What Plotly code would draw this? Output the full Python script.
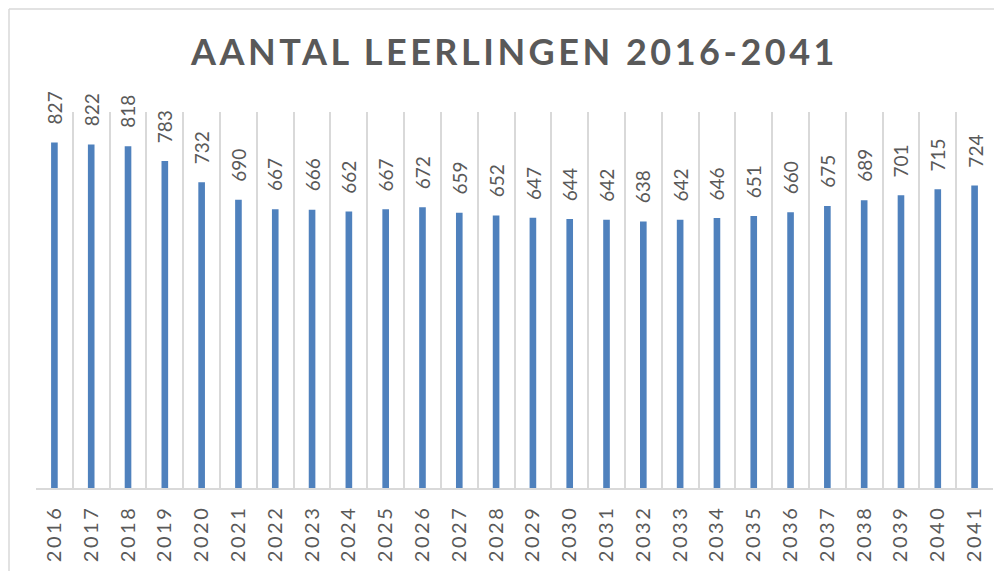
import plotly.graph_objects as go

years = [str(y) for y in range(2016, 2042)]
leerlingen = [827, 822, 818, 783, 732, 690, 667, 666, 662, 667, 672, 659, 652,
              647, 644, 642, 638, 642, 646, 651, 660, 675, 689, 701, 715, 724]
title_text = "AANTAL LEERLINGEN 2016-2041"

OFF = 8  # page body margin in the browser
W, H = 1002 - OFF, 571 - OFF
ml, mr, mt, mb = 36 - OFF, 17 - OFF, 112 - OFF, 83
pw = W - ml - mr
ph = H - mt - mb

fig = go.Figure()
fig.add_trace(go.Bar(
    x=years, y=leerlingen,
    width=0.18,
    marker=dict(color="#4f81bd", line=dict(width=0)),
    hoverinfo="x+y",
))

annotations = []
for i, v in enumerate(leerlingen):
    annotations.append(dict(
        x=i, y=v, xref="x", yref="y", text=str(v), showarrow=False,
        textangle=-90, xanchor="center", yanchor="bottom", yshift=16,
        font=dict(family="Lato", size=19, color="#595959"),
    ))

def px_x(p):
    return (p - OFF - ml) / pw

def px_y(p):
    return (H - mb - (p - OFF)) / ph

shapes = [
    dict(type="line", xref="paper", yref="paper",
         x0=px_x(9), x1=px_x(1010), y0=px_y(9), y1=px_y(9),
         line=dict(color="#d9d9d9", width=1.5)),
    dict(type="line", xref="paper", yref="paper",
         x0=px_x(9), x1=px_x(9), y0=px_y(9), y1=px_y(580),
         line=dict(color="#d9d9d9", width=1.5)),
]

tick_text = ['<span style="letter-spacing:2.5px">%s</span>' % y for y in years]

fig.update_layout(
    width=W, height=H,
    margin=dict(l=ml, r=mr, t=mt, b=mb, autoexpand=False),
    paper_bgcolor="white", plot_bgcolor="white",
    showlegend=False,
    annotations=annotations,
    shapes=shapes,
    title=dict(text='<span style="letter-spacing:3.5px">%s</span>' % title_text,
               x=0.5, xref="paper", xanchor="center",
               y=1 - (52 - OFF) / H, yref="container", yanchor="middle",
               font=dict(family="Lato", size=36, color="#595959", weight="bold")),
    xaxis=dict(type="category", tickangle=-90, tickson="boundaries",
               tickmode="array", tickvals=years, ticktext=tick_text,
               showgrid=True, gridcolor="#d9d9d9", gridwidth=1.5,
               showline=True, linecolor="#d9d9d9", linewidth=1.5,
               ticks="", ticklen=0, automargin=False, ticklabelstandoff=8,
               tickfont=dict(family="Lato", size=20, color="#595959"),
               range=[-0.5, len(years) - 0.5]),
    yaxis=dict(range=[0, 900], showgrid=False, showticklabels=False,
               zeroline=False, showline=False, ticks="", automargin=False),
)

fig.write_html("out.html")
